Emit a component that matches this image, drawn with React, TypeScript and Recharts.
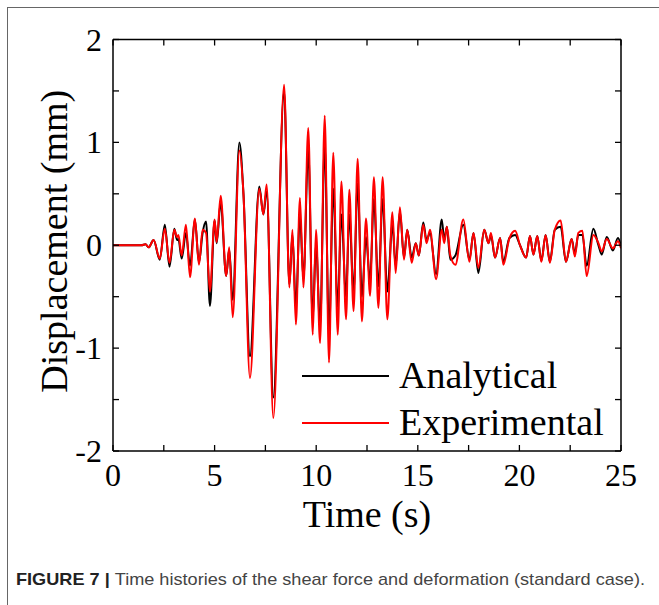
import React from 'react';
import { LineChart, Line, XAxis, YAxis, Legend } from 'recharts';

// time (s) of each read-off point, shared by both series
const times = [
  0, 1.4, 1.6, 1.75, 2.0, 2.3, 2.55, 2.78, 3.02, 3.15, 3.22, 3.38, 3.59, 3.79, 4.03, 4.23, 4.41, 4.58, 4.77,
  5.0, 5.1, 5.3, 5.57, 5.72, 5.89, 6.22, 6.42, 6.74, 7.2, 7.4, 7.56, 7.89, 8.42, 8.68, 8.83, 9.0, 9.2, 9.37,
  9.61, 9.83, 9.99, 10.19, 10.42, 10.63, 10.84, 11.06, 11.24, 11.47, 11.63, 11.84, 12.04, 12.25, 12.45, 12.65,
  12.84, 13.06, 13.27, 13.5, 13.75, 13.91, 14.12, 14.32, 14.48, 14.7, 14.9, 15.05, 15.27, 15.43, 15.6, 15.9,
  16.18, 16.3, 16.43, 16.6, 16.85, 17.24, 17.54, 17.74, 17.98, 18.27, 18.48, 18.6, 18.8, 19.05, 19.21, 19.51,
  19.79, 20.03, 20.33, 20.52, 20.69, 20.88, 21.08, 21.29, 21.5, 21.74, 22.03, 22.29, 22.57, 22.73, 22.9, 23.1,
  23.31, 23.64, 23.89, 24.05, 24.3, 24.6, 24.85, 25.0,
];

const analytical = [
  0, 0, 0.01, -0.02, 0.05, -0.14, 0.2, -0.21, 0.16, 0.05, 0.06, -0.13, 0.12, -0.2, 0.25, -0.17, 0.12, 0.23, -0.59,
  0.24, 0.02, 0.42, -0.3, -0.04, -0.53, 1.0, 0.5, -1.08, 0.57, 0.3, 0.52, -1.48, 1.5, -0.38, 0.1, -0.6, 0.3, -0.33,
  0.93, -0.72, 0.02, -0.78, 0.98, -0.85, 0.55, -0.6, 0.3, -0.5, 0.3, -0.45, 0.6, -0.5, 0.08, -0.35,
  0.45, -0.4, 0.45, -0.45, 0.2, -0.2, 0.33, -0.12, 0.15, -0.12, 0.02, -0.1, 0.22, 0.05, 0.12, -0.28,
  0.25, 0.05, 0.18, -0.14, -0.1, 0.2, -0.14, 0.12, -0.27, 0.15, 0.02, 0.1, -0.12, 0.07, -0.16, 0.07,
  0.1, 0.0, -0.12, 0.09, -0.09, 0.09, -0.15, 0.1, -0.16, 0.15, 0.18, -0.16, 0.06, -0.08, 0.1, 0.1,
  -0.2, 0.16, 0.0, -0.09, 0.08, -0.05, 0.07, -0.01,
];

const experimental = [
  0, 0, 0.01, -0.02, 0.05, -0.13, 0.16, -0.17, 0.15, 0.08, 0.1, -0.1, 0.2, -0.31, 0.26, -0.19, 0.15, 0.12, -0.45,
  0.25, 0.03, 0.48, -0.3, -0.02, -0.7, 0.92, 0.5, -1.29, 0.55, 0.3, 0.59, -1.68, 1.56, -0.41, 0.15, -0.77, 0.46, -0.41,
  1.14, -0.87, 0.15, -0.95, 1.26, -1.14, 0.9, -0.87, 0.62, -0.72, 0.54, -0.64, 0.84, -0.74, 0.26, -0.49,
  0.66, -0.61, 0.66, -0.72, 0.32, -0.27, 0.37, -0.14, 0.15, -0.17, 0.02, -0.1, 0.2, 0.02, 0.15, -0.33,
  0.15, 0.02, 0.18, -0.1, -0.19, 0.25, -0.16, 0.12, -0.22, 0.15, 0.02, 0.12, -0.12, 0.07, -0.19, 0.07,
  0.14, 0.0, -0.12, 0.09, -0.09, 0.09, -0.16, 0.1, -0.17, 0.15, 0.24, -0.16, 0.06, -0.11, 0.12, 0.14,
  -0.3, 0.1, 0.02, -0.06, 0.06, -0.03, 0.04, -0.03,
];

const xTicks = [0, 2.5, 5, 7.5, 10, 12.5, 15, 17.5, 20, 22.5, 25];
const yTicks = [-2, -1.5, -1, -0.5, 0, 0.5, 1, 1.5, 2];

const seriesList = [
  { key: 'analytical', name: 'Analytical', color: '#000000' },
  { key: 'experimental', name: 'Experimental', color: '#ff0000' },
];

const data = times.map((t, i) => ({ t, analytical: analytical[i], experimental: experimental[i] }));

const SERIF = '"Liberation Serif", "Times New Roman", serif';
const TICK_LEN = 6;
const W = 659;
const H = 605;

// eslint-disable-next-line @typescript-eslint/no-explicit-any
const BottomTick = ({ x, y, payload }: any) => (
  <g>
    <line x1={x} y1={y} x2={x} y2={y - TICK_LEN} stroke="#000" strokeWidth={1.3} />
    {payload.value % 5 === 0 && (
      <text x={x} y={y + 35} textAnchor="middle" fontSize={32} fontFamily={SERIF} fill="#000">
        {payload.value}
      </text>
    )}
  </g>
);

// eslint-disable-next-line @typescript-eslint/no-explicit-any
const TopTick = ({ x, y }: any) => (
  <line x1={x} y1={y} x2={x} y2={y + TICK_LEN} stroke="#000" strokeWidth={1.3} />
);

// eslint-disable-next-line @typescript-eslint/no-explicit-any
const LeftTick = ({ x, y, payload }: any) => (
  <g>
    <line x1={x} y1={y} x2={x + TICK_LEN} y2={y} stroke="#000" strokeWidth={1.3} />
    {Number.isInteger(payload.value) && (
      <text x={x - 11} y={y + 11} textAnchor="end" fontSize={32} fontFamily={SERIF} fill="#000">
        {payload.value}
      </text>
    )}
  </g>
);

// eslint-disable-next-line @typescript-eslint/no-explicit-any
const RightTick = ({ x, y }: any) => (
  <line x1={x} y1={y} x2={x - TICK_LEN} y2={y} stroke="#000" strokeWidth={1.3} />
);

// eslint-disable-next-line @typescript-eslint/no-explicit-any
const YTitle = (props: any) => {
  const { x, y, height } = props.viewBox;
  return (
    <text
      transform={`translate(${x - 45},${y + height / 2 - 4}) rotate(-90)`}
      textAnchor="middle"
      fontSize={38}
      fontFamily={SERIF}
      fill="#000"
    >
      Displacement (mm)
    </text>
  );
};

// eslint-disable-next-line @typescript-eslint/no-explicit-any
const XTitle = (props: any) => {
  const { x, y, width } = props.viewBox;
  return (
    <text x={x + width / 2} y={y + 76} textAnchor="middle" fontSize={38} fontFamily={SERIF} fill="#000">
      Time (s)
    </text>
  );
};

// eslint-disable-next-line @typescript-eslint/no-explicit-any
const LegendBox = ({ payload }: any) => (
  <div style={{ fontFamily: SERIF, fontSize: 38, lineHeight: '47px', color: '#000' }}>
    {/* eslint-disable-next-line @typescript-eslint/no-explicit-any */}
    {(payload || []).map((entry: any) => (
      <div key={entry.value} style={{ display: 'flex', alignItems: 'center', height: 47 }}>
        <svg width={87} height={4} style={{ marginRight: 10, display: 'block' }}>
          <line x1={0} y1={2} x2={87} y2={2} stroke={entry.color} strokeWidth={2} />
        </svg>
        <span>{entry.value}</span>
      </div>
    ))}
  </div>
);

export default function App() {
  return (
    <div style={{ position: 'absolute', left: 0, top: 0, width: W, height: H, background: '#fff' }}>
      <svg width={W} height={H} style={{ position: 'absolute', left: 0, top: 0 }}>
        <line x1={7} y1={7.5} x2={W} y2={7.5} stroke="#666" strokeWidth={1} />
        <line x1={7.5} y1={7} x2={7.5} y2={H} stroke="#666" strokeWidth={1} />
        <text x={16} y={585} fontSize={17} fontFamily='"Liberation Sans", Arial, sans-serif' textLength={629} lengthAdjust="spacingAndGlyphs">
          <tspan fontWeight="bold" fill="#222">FIGURE 7 | </tspan>
          <tspan fill="#444">Time histories of the shear force and deformation (standard case).</tspan>
        </text>
      </svg>
      <div style={{ position: 'absolute', left: 0, top: 0 }}>
        <LineChart width={W} height={H} data={data} margin={{ top: 38.5, left: 112, right: 37, bottom: 153 }}>
          <XAxis
            dataKey="t"
            type="number"
            domain={[0, 25]}
            ticks={xTicks}
            interval={0}
            allowDataOverflow
            height={1}
            tickSize={0}
            tickMargin={0}
            tickLine={false}
            tick={<BottomTick />}
            axisLine={{ stroke: '#000', strokeWidth: 1.5 }}
            label={XTitle}
          />
          <XAxis
            xAxisId="top"
            orientation="top"
            dataKey="t"
            type="number"
            domain={[0, 25]}
            ticks={xTicks}
            interval={0}
            allowDataOverflow
            height={1}
            tickSize={0}
            tickMargin={0}
            tickLine={false}
            tick={<TopTick />}
            axisLine={{ stroke: '#000', strokeWidth: 1.5 }}
          />
          <YAxis
            type="number"
            domain={[-2, 2]}
            ticks={yTicks}
            interval={0}
            allowDataOverflow
            width={1}
            tickSize={0}
            tickMargin={0}
            tickLine={false}
            tick={<LeftTick />}
            axisLine={{ stroke: '#000', strokeWidth: 1.5 }}
            label={YTitle}
          />
          <YAxis
            yAxisId="right"
            orientation="right"
            type="number"
            domain={[-2, 2]}
            ticks={yTicks}
            interval={0}
            allowDataOverflow
            width={1}
            tickSize={0}
            tickMargin={0}
            tickLine={false}
            tick={<RightTick />}
            axisLine={{ stroke: '#000', strokeWidth: 1.5 }}
          />
          <Legend
            layout="vertical"
            verticalAlign="middle"
            align="center"
            content={LegendBox}
            wrapperStyle={{ position: 'absolute', left: 302, top: 352, width: 320 }}
          />
          {seriesList.map(s => (
            <Line
              key={s.key}
              type="monotone"
              dataKey={s.key}
              name={s.name}
              stroke={s.color}
              strokeWidth={2}
              dot={false}
              activeDot={false}
              isAnimationActive={false}
            />
          ))}
        </LineChart>
      </div>
    </div>
  );
}
